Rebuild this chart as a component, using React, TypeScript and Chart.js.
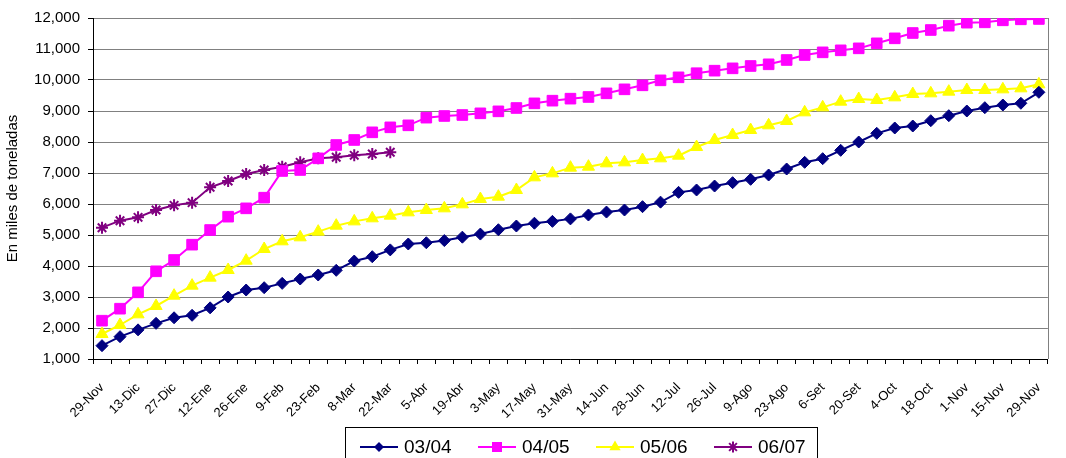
import React, { useEffect, useRef } from 'react';
import { Chart, registerables } from 'chart.js';

Chart.register(...registerables);

const tickLabels = [
  '29-Nov', '13-Dic', '27-Dic', '12-Ene', '26-Ene', '9-Feb', '23-Feb', '8-Mar', '22-Mar',
  '5-Abr', '19-Abr', '3-May', '17-May', '31-May', '14-Jun', '28-Jun', '12-Jul', '26-Jul',
  '9-Ago', '23-Ago', '6-Set', '20-Set', '4-Oct', '18-Oct', '1-Nov', '15-Nov', '29-Nov',
];

const series0304 = [
  1430, 1720, 1940, 2150, 2330, 2410, 2650, 3000, 3225, 3300,
  3440, 3580, 3710, 3860, 4160, 4300, 4520, 4710, 4750, 4820,
  4930, 5030, 5170, 5290, 5380, 5440, 5520, 5645, 5740, 5806,
  5914, 6060, 6376, 6452, 6580, 6688, 6796, 6935, 7129, 7344,
  7462, 7731, 8000, 8280, 8452, 8516, 8688, 8849, 9000, 9107,
  9194, 9249, 9603,
];

const series0405 = [
  2236, 2623, 3150, 3829, 4194, 4688, 5161, 5591, 5860, 6204,
  7065, 7097, 7473, 7903, 8065, 8312, 8473, 8538, 8785, 8839,
  8871, 8925, 8989, 9097, 9247, 9333, 9398, 9452, 9570, 9699,
  9828, 9989, 10086, 10220, 10301, 10376, 10452, 10506, 10645, 10806,
  10892, 10957, 11021, 11183, 11344, 11516, 11613, 11752, 11849, 11860,
  11925, 11957, 11968,
];

const series0506 = [
  1806, 2097, 2441, 2710, 3043, 3366, 3624, 3871, 4172, 4548,
  4796, 4925, 5108, 5301, 5440, 5538, 5624, 5731, 5806, 5860,
  5989, 6161, 6236, 6452, 6860, 6989, 7172, 7204, 7312, 7344,
  7419, 7473, 7559, 7838, 8065, 8226, 8387, 8538, 8677, 8957,
  9118, 9301, 9387, 9355, 9441, 9548, 9570, 9624, 9677, 9677,
  9699, 9731, 9860,
];

const series0607 = [
  5236, 5462, 5570, 5806, 5957, 6043, 6538, 6742, 6968, 7097,
  7204, 7344, 7473, 7510, 7570, 7613, 7667,
];

const seriesNames = ['03/04', '04/05', '05/06', '06/07'];
const seriesColors = ['#000080', '#FF00FF', '#FFFF00', '#800080'];
const seriesMarkers = ['rectRot', 'rect', 'triangle', 'star'];

const WEEKS = 53;
const categories = Array.from({ length: WEEKS }, (_, i) => (i % 2 === 0 ? tickLabels[i / 2] : ''));

const SANS = "'Liberation Sans', Arial, sans-serif";

function drawMarker(ctx: CanvasRenderingContext2D, kind: string, x: number, y: number, color: string) {
  ctx.save();
  ctx.fillStyle = color;
  ctx.strokeStyle = color;
  ctx.beginPath();
  if (kind === 'rectRot') {
    const r = 5;
    ctx.moveTo(x - r, y);
    ctx.lineTo(x, y - r);
    ctx.lineTo(x + r, y);
    ctx.lineTo(x, y + r);
    ctx.closePath();
    ctx.fill();
  } else if (kind === 'rect') {
    const s = 5;
    ctx.rect(x - s, y - s, 2 * s, 2 * s);
    ctx.fill();
  } else if (kind === 'triangle') {
    const r = 6.5;
    ctx.moveTo(x, y - r);
    ctx.lineTo(x + r * 0.866, y + r * 0.5);
    ctx.lineTo(x - r * 0.866, y + r * 0.5);
    ctx.closePath();
    ctx.fill();
  } else {
    const r = 5.5;
    ctx.lineWidth = 2;
    for (let k = 0; k < 4; k++) {
      const a = (k * Math.PI) / 4;
      ctx.moveTo(x - Math.cos(a) * r, y - Math.sin(a) * r);
      ctx.lineTo(x + Math.cos(a) * r, y + Math.sin(a) * r);
    }
    ctx.stroke();
  }
  ctx.restore();
}

const framePlugin = {
  id: 'framePlugin',
  beforeDatasetsDraw(chart: any) {
    const { ctx, chartArea } = chart;
    ctx.save();
    ctx.strokeStyle = '#808080';
    ctx.lineWidth = 1;
    ctx.beginPath();
    ctx.moveTo(Math.round(chartArea.right) + 0.5, chartArea.top);
    ctx.lineTo(Math.round(chartArea.right) + 0.5, chartArea.bottom);
    ctx.stroke();
    ctx.restore();
  },
  afterDraw(chart: any) {
    const { ctx } = chart;
    const boxLeft = 345;
    const boxRight = 817;
    const boxTop = 427;
    const cy = 447;
    ctx.save();
    ctx.strokeStyle = '#000';
    ctx.lineWidth = 1;
    ctx.strokeRect(boxLeft + 0.5, boxTop + 0.5, boxRight - boxLeft, 60);
    const startX = 360;
    const step = 118;
    seriesNames.forEach((name, i) => {
      const x0 = startX + i * step;
      ctx.strokeStyle = seriesColors[i];
      ctx.lineWidth = 2;
      ctx.beginPath();
      ctx.moveTo(x0, cy);
      ctx.lineTo(x0 + 38, cy);
      ctx.stroke();
      drawMarker(ctx, seriesMarkers[i], x0 + 19, cy, seriesColors[i]);
      ctx.fillStyle = '#000';
      ctx.font = `19px ${SANS}`;
      ctx.textAlign = 'left';
      ctx.textBaseline = 'middle';
      ctx.fillText(name, x0 + 44, cy + 1);
    });
    ctx.restore();
  },
};

export default function App() {
  const canvasRef = useRef<HTMLCanvasElement | null>(null);

  useEffect(() => {
    document.body.style.margin = '0';
    const canvas = canvasRef.current;
    if (!canvas) return;
    const seriesData = [series0304, series0405, series0506, series0607];
    const radii = [6, 7.5, 7, 6];
    const chart = new Chart(canvas, {
      type: 'line',
      data: {
        labels: categories,
        datasets: seriesData.map((d, i) => ({
          label: seriesNames[i],
          data: d,
          borderColor: seriesColors[i],
          backgroundColor: seriesColors[i],
          pointBackgroundColor: seriesColors[i],
          pointBorderColor: seriesColors[i],
          pointStyle: seriesMarkers[i] as any,
          pointRadius: radii[i],
          pointBorderWidth: i === 3 ? 2 : 1,
          borderWidth: 2,
          tension: 0,
          fill: false,
        })),
      },
      plugins: [framePlugin],
      options: {
        responsive: false,
        animation: false,
        layout: { padding: { top: 18, right: 4, bottom: 0, left: 0 } },
        plugins: {
          legend: { display: false },
          tooltip: { enabled: false },
        },
        scales: {
          x: {
            type: 'category',
            offset: true,
            grid: {
              offset: true,
              drawOnChartArea: false,
              drawTicks: true,
              tickLength: 5,
              color: '#000',
            },
            border: { color: '#000', width: 1 },
            ticks: {
              autoSkip: false,
              minRotation: 45,
              maxRotation: 45,
              color: '#000',
              padding: 16,
              font: { family: SANS, size: 13 },
            },
            afterFit: (s: any) => {
              s.height = 99;
            },
          },
          y: {
            min: 1000,
            max: 12000,
            ticks: {
              stepSize: 1000,
              color: '#000',
              padding: 8,
              font: { family: SANS, size: 15 },
              callback: (v: any) => Number(v).toLocaleString('en-US'),
            },
            grid: {
              color: '#808080',
              tickColor: '#000',
              tickLength: 5,
              lineWidth: 1,
            },
            border: { color: '#000', width: 1 },
            title: {
              display: true,
              text: 'En miles de toneladas',
              color: '#000',
              font: { family: SANS, size: 15 },
              padding: { top: 4, bottom: 0 },
            },
            afterFit: (s: any) => {
              s.width = 93;
            },
          },
        },
      },
    });
    return () => chart.destroy();
  }, []);

  return (
    <div style={{ width: 1066, height: 458 }}>
      <canvas ref={canvasRef} width={1066} height={458} style={{ display: 'block' }} />
    </div>
  );
}
